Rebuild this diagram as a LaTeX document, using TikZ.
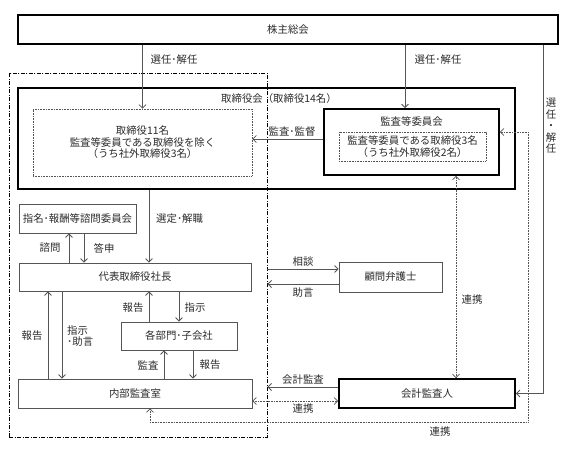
\documentclass[tikz,border=0pt]{standalone}
\usepackage{fontspec}
\setmainfont{Noto Sans CJK JP}
\usetikzlibrary{arrows.meta, positioning, calc}
\definecolor{linegray}{HTML}{555555}
\definecolor{textgray}{HTML}{2A2A2A}

\begin{document}
\begin{tikzpicture}[x=1pt, y=-1pt,
    every node/.style={text=textgray, font=\fontsize{10.4}{11.5}\selectfont, inner sep=0pt},
    box/.style={draw=linegray, line width=0.8pt, minimum height=29pt},
    thickbox/.style={draw=black, line width=1.8pt, minimum height=29pt},
    dotbox/.style={draw=linegray, line width=0.6pt, dash pattern=on 0.8pt off 0.8pt, align=center},
    frame/.style={draw=black, line width=0.9pt, dash pattern=on 4pt off 1.5pt on 1pt off 1.5pt},
    arr/.style={draw=linegray, line width=0.8pt, -{Straight Barb[length=3.5pt,width=7pt]}},
    dotarr/.style={draw=linegray, line width=0.7pt, dash pattern=on 0.8pt off 0.8pt,
        {Straight Barb[length=3.5pt,width=7pt]}-{Straight Barb[length=3.5pt,width=7pt]}}]
    \useasboundingbox (0,0) rectangle (568,453);

    % Nodes
    \node[thickbox, minimum width=540pt] (kabu) at (288,29.5) {株主総会};
    \node[thickbox, minimum width=497pt, minimum height=101pt] (board) at (266.5,138.5) {};
    \node (boardlbl) at (279,99) {取締役会（取締役14名）};
    \node[dotbox, minimum width=219pt, minimum height=67pt] (dir11) at (142.5,142.5)
        {取締役11名\\監査等委員である取締役を除く\\（うち社外取締役3名）};
    \node[thickbox, minimum width=175pt, minimum height=66pt] (acb) at (411.5,142) {};
    \node (acbttl) at (411.5,122) {監査等委員会};
    \node[dotbox, minimum width=147pt, minimum height=29pt] (acbin) at (412.5,146.5)
        {監査等委員である取締役3名\\（うち社外取締役2名）};
    \node[box, minimum width=117pt] (nom) at (77.5,218.5) {指名･報酬等諮問委員会};
    \node[box, minimum width=232pt, minimum height=28pt] (ceo) at (135,277) {代表取締役社長};
    \node[box, minimum width=103pt, minimum height=30pt] (lawyer) at (390.5,277) {顧問弁護士};
    \node[box, minimum width=116pt, minimum height=28pt] (dept) at (179,336) {各部門･子会社};
    \node[box, minimum width=234pt] (audit) at (135,393.5) {内部監査室};
    \node[thickbox, minimum width=176pt] (ext) at (427,393.5) {会計監査人};
    \node[frame, minimum width=258pt, minimum height=364pt] (mgmt) at (138,255) {};

    % Edges
    \draw[arr] (kabu.south -| dir11.north) -- (dir11.north);
    \draw[arr] (kabu.south -| 405,0) -- (405,0 |- acb.north);
    \draw[arr] (kabu.south -| 543,0) |- (ext.east);
    \draw[arr] ([yshift=3pt]acb.west) -- ([yshift=3pt]acb.west -| dir11.east);
    \draw[arr] (board.south -| 149,0) -- (149,0 |- ceo.north);
    \draw[arr] (ceo.north -| 69,0) -- (69,0 |- nom.south);
    \draw[arr] (nom.south -| 84,0) -- (84,0 |- ceo.north);
    \draw[arr] (mgmt.east |- 0,269) -- (lawyer.west |- 0,269);
    \draw[arr] (lawyer.west |- 0,284) -- (mgmt.east |- 0,284);
    \draw[arr] (audit.north -| 48,0) -- (48,0 |- ceo.south);
    \draw[arr] (ceo.south -| 62,0) -- (62,0 |- audit.north);
    \draw[arr] (dept.north -| 149,0) -- (149,0 |- ceo.south);
    \draw[arr] (ceo.south -| dept.north) -- (dept.north);
    \draw[arr] (audit.north -| 164,0) -- (164,0 |- dept.south);
    \draw[arr] (dept.south -| 193,0) -- (193,0 |- audit.north);
    \draw[arr] (ext.west |- 0,387) -- (mgmt.east |- 0,387);
    \draw[dotarr] (audit.east |- 0,401) -- (ext.west |- 0,401);
    \draw[dotarr] (acb.south -| 456,0) -- (456,0 |- ext.north);
    \draw[dotarr] ([yshift=10pt]acb.east) -| (528,422) -| (audit.south -| 150,0);

    % Labels
    \node (sel1) at (174,60) {選任･解任};
    \node (sel2) at (438,60) {選任･解任};
    \node[align=center] (sel3) at (551,126) {選\\任\\・\\解\\任};
    \node (kansa) at (292,132) {監査･監督};
    \node[anchor=west] (sentei) at (156,219) {選定･解職};
    \node (shimon) at (50,248) {諮問};
    \node (toshin) at (104,248) {答申};
    \node (soudan) at (303,262) {相談};
    \node (jogen) at (303,293) {助言};
    \node (rep1) at (32,336) {報告};
    \node[anchor=west, align=left] (shiji1) at (67,336) {指示\\･助言};
    \node (rep2) at (133,308) {報告};
    \node (shiji2) at (195,308) {指示};
    \node (kansa2) at (148,365) {監査};
    \node (rep3) at (210,365) {報告};
    \node (kaikei) at (303,380) {会計監査};
    \node (renkei1) at (303,409) {連携};
    \node (renkei2) at (472,300) {連携};
    \node (renkei3) at (440,432) {連携};
\end{tikzpicture}
\end{document}
